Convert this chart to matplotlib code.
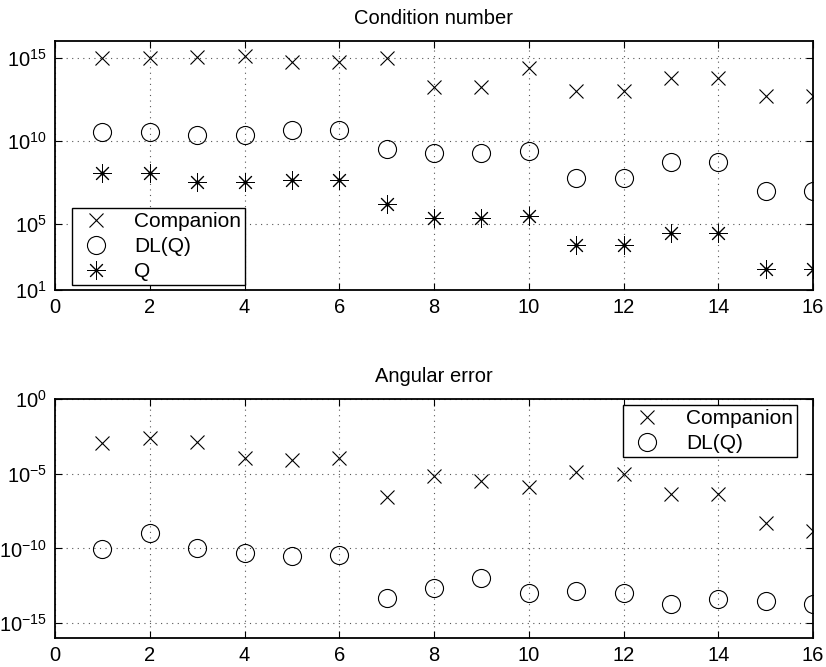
import numpy as np
import matplotlib
matplotlib.use("Agg")
import matplotlib.pyplot as plt

plt.rcParams['font.family'] = ['Liberation Sans', 'DejaVu Sans']
plt.rcParams['mathtext.fontset'] = 'custom'
plt.rcParams['mathtext.rm'] = 'Liberation Sans'
plt.rcParams['mathtext.it'] = 'Liberation Sans'
plt.rcParams['mathtext.default'] = 'regular'

x = np.arange(1, 17)

# Condition number (log10 values)
cond_companion_log = [15.0, 15.0, 15.06, 15.1, 14.76, 14.76, 15.0, 13.22,
                      13.22, 14.4, 12.96, 12.96, 13.77, 13.77, 12.66, 12.66]
cond_dlq_log = [10.5, 10.5, 10.31, 10.31, 10.62, 10.62, 9.48, 9.26,
                9.26, 9.4, 7.73, 7.73, 8.74, 8.74, 6.94, 6.94]
cond_q_log = [8.03, 8.03, 7.48, 7.48, 7.61, 7.61, 6.19, 5.36,
              5.36, 5.46, 3.71, 3.71, 4.43, 4.43, 2.27, 2.27]

# Angular error (log10 values)
ang_companion_log = [-2.97, -2.59, -2.88, -3.98, -4.09, -3.98, -6.58, -5.16,
                     -5.49, -5.87, -4.87, -5.02, -6.36, -6.36, -8.32, -8.83]
ang_dlq_log = [-10.03, -9.0, -10.0, -10.28, -10.48, -10.46, -13.29, -12.66,
               -11.95, -13.0, -12.86, -13.0, -13.71, -13.4, -13.51, -13.75]

top_yticks = [1e1, 1e5, 1e10, 1e15]
bot_yticks = [1e0, 1e-5, 1e-10, 1e-15]
xticks = [0, 2, 4, 6, 8, 10, 12, 14, 16]

W, H = 826, 667
fig = plt.figure(figsize=(W / 100, H / 100), dpi=100)

def px_axes(l, t, r, b):
    return fig.add_axes([l / W, 1 - b / H, (r - l) / W, (b - t) / H])

ax1 = px_axes(55, 41, 813, 290)
ax2 = px_axes(55, 399, 813, 638)

star = (8, 2, 0)
ms_x, ms_o, ms_s = 9.5, 13, 13

def style(ax):
    ax.set_yscale('log')
    ax.set_xlim(0, 16)
    ax.set_xticks(xticks)
    ax.minorticks_off()
    ax.tick_params(direction='in', top=True, right=True, length=5,
                   labelsize=14.5, width=0.8, pad=6)
    ax.grid(True, linestyle=(0, (1, 4)), color='#555555', linewidth=0.8)
    for s in ax.spines.values():
        s.set_linewidth(1.3)

def add_legend(ax, loc, anchor):
    leg = ax.legend(loc=loc, bbox_to_anchor=anchor, borderaxespad=0,
                    fancybox=False, edgecolor='black', framealpha=1,
                    fontsize=15, handletextpad=0.9, borderpad=0.2,
                    labelspacing=0.28, handlelength=1.9)
    leg.get_frame().set_linewidth(1.0)

ax1.plot(x, 10.0 ** np.array(cond_companion_log), linestyle='none', marker='x',
         ms=ms_x, mew=0.8, color='black', label='Companion')
ax1.plot(x, 10.0 ** np.array(cond_dlq_log), linestyle='none', marker='o',
         ms=ms_o, mew=0.8, mfc='none', color='black', label='DL(Q)')
ax1.plot(x, 10.0 ** np.array(cond_q_log), linestyle='none', marker=star,
         ms=ms_s, mew=0.7, color='black', label='Q')
ax1.plot(x, 10.0 ** np.array(cond_q_log), linestyle='none', marker='o',
         ms=2.0, color='black')
style(ax1)
ax1.set_ylim(1e1, 1e16)
ax1.set_yticks(top_yticks)
ax1.set_yticklabels([r'$10^{1}$', r'$10^{5}$', r'$10^{10}$', r'$10^{15}$'])
ax1.set_title('Condition number', fontsize=14.5, pad=12)
add_legend(ax1, 'lower left', (0.022, 0.02))

ax2.plot(x, 10.0 ** np.array(ang_companion_log), linestyle='none', marker='x',
         ms=ms_x, mew=0.8, color='black', label='Companion')
ax2.plot(x, 10.0 ** np.array(ang_dlq_log), linestyle='none', marker='o',
         ms=ms_o, mew=0.8, mfc='none', color='black', label='DL(Q)')
style(ax2)
ax2.set_ylim(1e-16, 1e0)
ax2.set_yticks(bot_yticks)
ax2.set_yticklabels([r'$10^{0}$', r'$10^{-5}$', r'$10^{-10}$', r'$10^{-15}$'])
ax2.set_title('Angular error', fontsize=14.5, pad=12)
add_legend(ax2, 'upper right', (0.979, 0.975))

fig.savefig('out.png', dpi=100)
